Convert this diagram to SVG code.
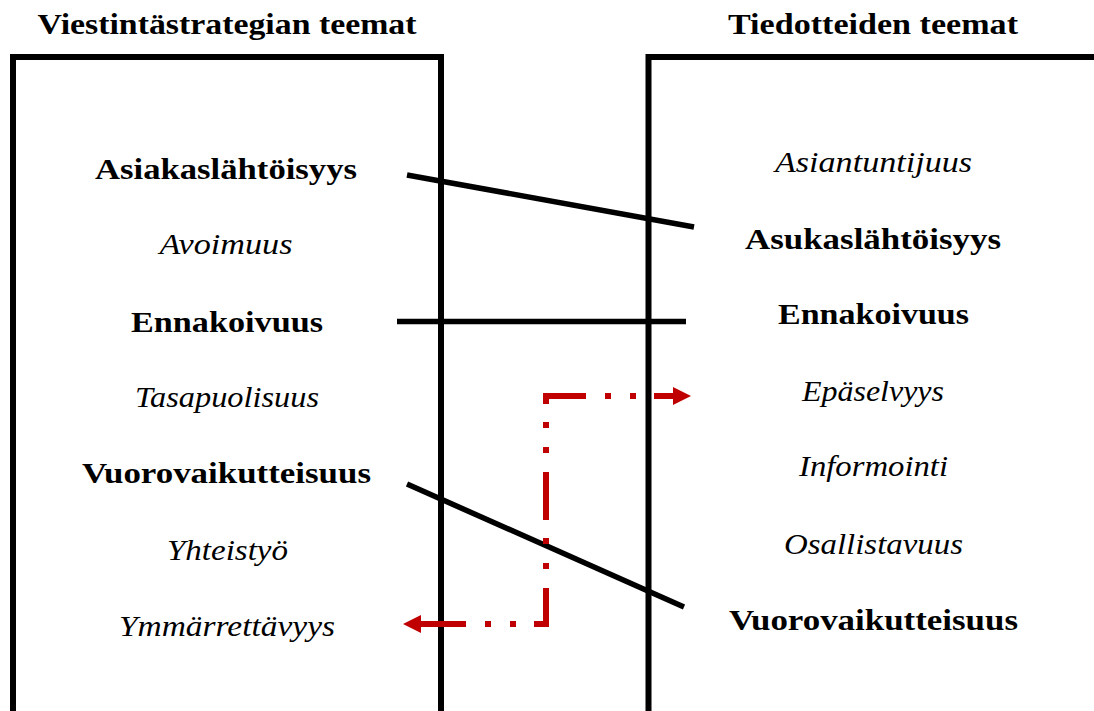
<svg xmlns="http://www.w3.org/2000/svg" width="1094" height="711" viewBox="0 0 1094 711">
<style>
text{font-family:"Liberation Serif","DejaVu Serif",serif;font-size:30px;fill:#000;text-anchor:middle}
.b{font-weight:bold}
.i{font-style:italic}
.t{font-weight:bold;font-size:30px}
.box{fill:none;stroke:#000;stroke-width:6}
.ln{stroke:#000;stroke-width:5.5;fill:none}
.red{stroke:#C00000;stroke-width:6;fill:none;stroke-dasharray:48 19 6 19 6 18;stroke-dashoffset:3}
</style>
<defs>
<marker id="ah" viewBox="0 0 18 18" refX="0" refY="9" markerWidth="18" markerHeight="18" markerUnits="userSpaceOnUse" orient="auto-start-reverse">
<path d="M0 0 L18 9 L0 18 Z" fill="#C00000"/>
</marker>
</defs>
<g id="title-left"><text class="t" x="227" y="34" textLength="379" lengthAdjust="spacingAndGlyphs">Viestintästrategian teemat</text></g>
<g id="title-right"><text class="t" x="873" y="34" textLength="290" lengthAdjust="spacingAndGlyphs">Tiedotteiden teemat</text></g>
<g id="box-left"><path class="box" d="M13 715 V57 H441 V715"/></g>
<g id="box-right"><path class="box" d="M648.5 715 V57 H1100"/></g>
<g id="left-items">
<g id="l1"><text class="b" x="226" y="179" textLength="262" lengthAdjust="spacingAndGlyphs">Asiakaslähtöisyys</text></g>
<g id="l2"><text class="i" x="226" y="254" textLength="133" lengthAdjust="spacingAndGlyphs">Avoimuus</text></g>
<g id="l3"><text class="b" x="227" y="332" textLength="192" lengthAdjust="spacingAndGlyphs">Ennakoivuus</text></g>
<g id="l4"><text class="i" x="227" y="407" textLength="184" lengthAdjust="spacingAndGlyphs">Tasapuolisuus</text></g>
<g id="l5"><text class="b" x="226.5" y="483" textLength="289" lengthAdjust="spacingAndGlyphs">Vuorovaikutteisuus</text></g>
<g id="l6"><text class="i" x="227.5" y="560" textLength="121" lengthAdjust="spacingAndGlyphs">Yhteistyö</text></g>
<g id="l7"><text class="i" x="227" y="636" textLength="216" lengthAdjust="spacingAndGlyphs">Ymmärrettävyys</text></g>
</g>
<g id="right-items">
<g id="r1"><text class="i" x="873.5" y="172" textLength="197" lengthAdjust="spacingAndGlyphs">Asiantuntijuus</text></g>
<g id="r2"><text class="b" x="873" y="249" textLength="256" lengthAdjust="spacingAndGlyphs">Asukaslähtöisyys</text></g>
<g id="r3"><text class="b" x="873.5" y="324" textLength="191" lengthAdjust="spacingAndGlyphs">Ennakoivuus</text></g>
<g id="r4"><text class="i" x="873" y="401" textLength="142" lengthAdjust="spacingAndGlyphs">Epäselvyys</text></g>
<g id="r5"><text class="i" x="873.5" y="476" textLength="149" lengthAdjust="spacingAndGlyphs">Informointi</text></g>
<g id="r6"><text class="i" x="873.5" y="554" textLength="179" lengthAdjust="spacingAndGlyphs">Osallistavuus</text></g>
<g id="r7"><text class="b" x="873.5" y="630" textLength="289" lengthAdjust="spacingAndGlyphs">Vuorovaikutteisuus</text></g>
</g>
<g id="connectors">
<line class="ln" x1="407" y1="175" x2="694" y2="227"/>
<line class="ln" x1="397" y1="321.5" x2="686" y2="321.5"/>
<line class="ln" x1="407" y1="484" x2="684" y2="607"/>
<path class="red" d="M421 624 H546 V396 H673" marker-start="url(#ah)" marker-end="url(#ah)"/>
</g>
</svg>
